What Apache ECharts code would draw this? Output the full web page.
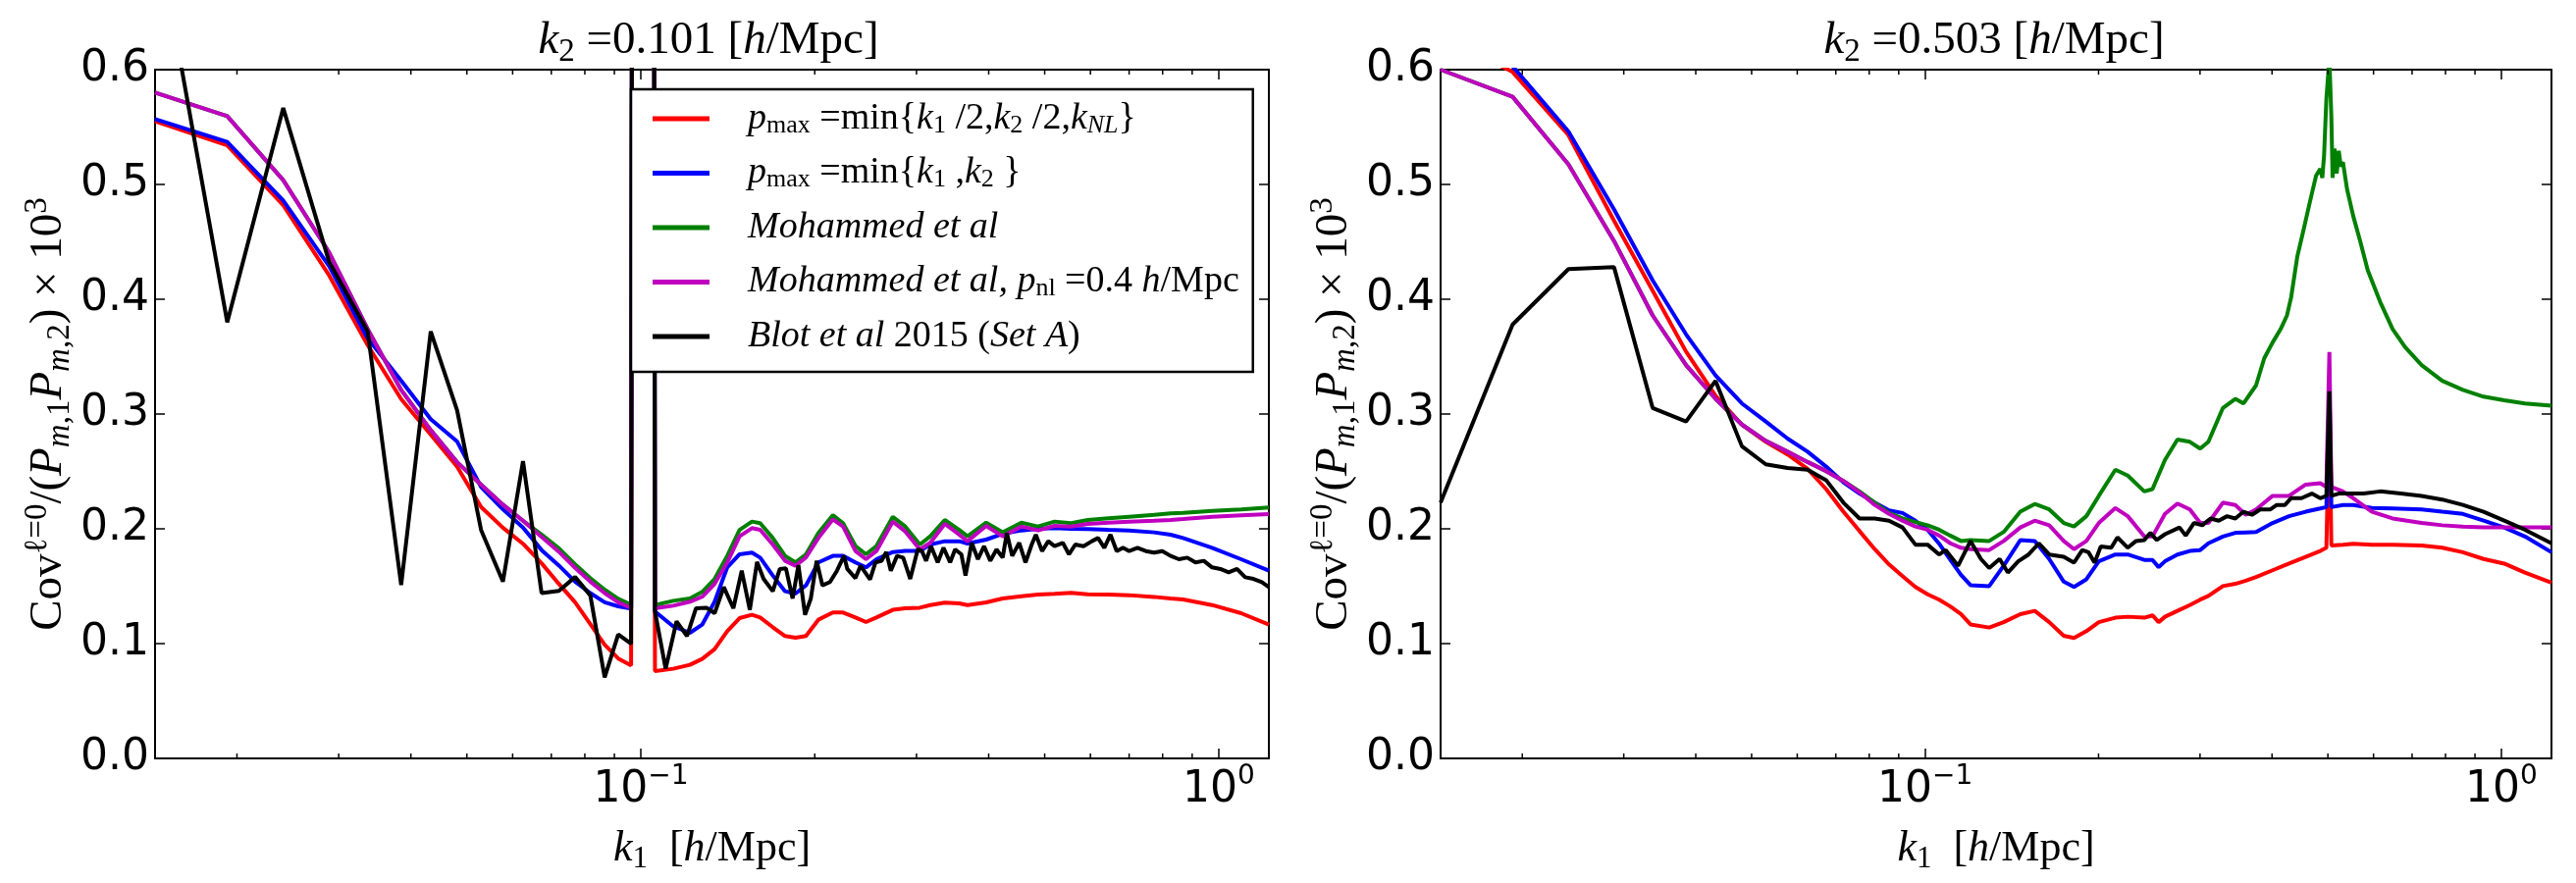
<!DOCTYPE html>
<html><head><meta charset="utf-8">
<script src="https://cdn.jsdelivr.net/npm/echarts@6.0.0/dist/echarts.min.js"></script>
<style>html,body{margin:0;padding:0;background:#fff}#c{width:2625px;height:900px}</style>
</head><body><div id="c"></div>
<script>
// ---------------- data ----------------
const K_MIN = 0.01443, K_MAX = 1.2217;
const MINOR_TICKS = [0.02,0.03,0.04,0.05,0.06,0.07,0.08,0.09,0.2,0.3,0.4,0.5,0.6,0.7,0.8,0.9];
const Y_TICKS = [0, 0.1, 0.2, 0.3, 0.4, 0.5, 0.6];
const SERIES_NAMES = ['pmax_half', 'pmax_full', 'mohammed', 'mohammed_pnl', 'blot'];
const SERIES_COLORS = ['#ff0000', '#0000ff', '#008000', '#bf00bf', '#000000'];
const PANEL_TITLES_K2 = ['0.101', '0.503'];

// left panel (k2 = 0.101)
const leftK = [0.01443,0.01924,0.02405,0.02886,0.03367,0.03848,0.04329,0.0481,0.05291,0.05772,0.06253,0.06734,0.07215,0.07696,0.08177,0.08658,0.09139,0.0962,0.101,
  0.1058,0.1138,0.1216,0.1277,0.1342,0.1411,0.1482,0.1557,0.1609,0.1692,0.1777,0.1852,0.1931,0.2029,0.2150,0.2239,0.2352,0.2453,0.2557,0.2730,0.2869,0.3040,0.3169,0.3358,0.3557,0.3676,0.3960,0.4229,0.4556,0.4867,0.5200,0.5555,0.5935,0.6446,0.7002,0.7733,0.8260,0.8679,0.9743,1.0937,1.2217];
const leftRed = [0.555,0.534,0.482,0.421,0.360,0.313,0.282,0.254,0.219,0.201,0.187,0.170,0.152,0.136,0.117,0.099,0.087,0.081,8,
  0.0761,0.0781,0.0815,0.0866,0.0952,0.1108,0.1222,0.1251,0.1228,0.1143,0.1066,0.1051,0.1066,0.1208,0.1271,0.1271,0.1228,0.1188,0.1228,0.1294,0.1308,0.1313,0.1336,0.1356,0.1351,0.1336,0.1359,0.1393,0.1413,0.1427,0.1433,0.1442,0.1430,0.1427,0.1422,0.1407,0.1393,0.1385,0.1336,0.1265,0.1165];
const leftBlue = [0.557,0.537,0.486,0.429,0.366,0.329,0.2955,0.276,0.2365,0.217,0.201,0.1815,0.168,0.154,0.144,0.136,0.1325,0.1305,8,
  0.128,0.115,0.1094,0.1165,0.1365,0.1664,0.1778,0.1792,0.1749,0.1593,0.1456,0.1436,0.1507,0.1707,0.1764,0.1764,0.1707,0.1664,0.1735,0.1798,0.1807,0.1807,0.1863,0.1892,0.1892,0.1872,0.1906,0.1957,0.1986,0.2000,0.2006,0.2000,0.1997,0.1991,0.1986,0.1969,0.1949,0.1920,0.1835,0.1735,0.1635];
const leftGreen = [0.580,0.5595,0.5037,0.441,0.374,0.321,0.286,0.258,0.2385,0.221,0.207,0.195,0.183,0.169,0.157,0.147,0.139,0.134,8,
  0.1336,0.1373,0.1393,0.145,0.1564,0.1764,0.1991,0.2063,0.2049,0.1920,0.1764,0.1707,0.1778,0.1963,0.2120,0.2049,0.1850,0.1778,0.1850,0.2105,0.2020,0.1863,0.1935,0.2077,0.1991,0.1935,0.2054,0.1970,0.2054,0.2020,0.2063,0.2049,0.2077,0.2091,0.2105,0.2122,0.2134,0.2139,0.2157,0.2168,0.2185];
const leftMagenta = [0.580,0.5595,0.5037,0.441,0.374,0.321,0.286,0.258,0.2385,0.221,0.207,0.193,0.180,0.166,0.154,0.144,0.136,0.131,8,
  0.1308,0.1330,0.1365,0.1408,0.1521,0.1707,0.1935,0.2006,0.1991,0.1863,0.1721,0.1678,0.1750,0.1920,0.2083,0.2020,0.1806,0.1735,0.1806,0.2063,0.1977,0.1821,0.1878,0.2043,0.1949,0.1892,0.2026,0.1935,0.2020,0.1986,0.2026,0.2020,0.2043,0.2054,0.2063,0.2071,0.2077,0.2085,0.2105,0.2117,0.2128];
const leftBlotK = [0.01443,0.01924,0.02405,0.02886,0.03367,0.03848,0.04329,0.0481,0.05291,0.05772,0.06253,0.06734,0.07215,0.07696,0.08177,0.08658,0.09139,0.0962,0.101,0.1058,
  0.1104,0.1153,0.1202,0.1246,0.1299,0.1342,0.1392,0.1446,0.1495,0.1544,0.1589,0.1631,0.1692,0.1740,0.1783,0.1831,0.1874,0.1924,0.1969,0.2015,0.2062,0.2125,0.2185,0.2247,0.2277,0.2352,0.2400,0.2493,0.2547,0.2611,0.2659,0.2708,0.2776,0.2845,0.2926,0.3015,0.3066,0.3117,0.3179,0.3265,0.3341,0.3430,0.3499,0.3587,0.3647,0.3738,0.3832,0.3927,0.4026,0.4127,0.4229,0.4300,0.4393,0.4518,0.4632,0.4748,0.4827,0.4949,0.5072,0.5200,0.5374,0.5509,0.5649,0.5838,0.6034,0.6185,0.6341,0.6499,0.6663,0.6831,0.7002,0.7238,0.7481,0.7733,0.7991,0.8260,0.8537,0.8825,0.9120,0.9428,0.9743,1.0072,1.0409,1.0759,1.1119,1.1493,1.1880,1.2217];
const leftBlot = [0.730,0.380,0.5666,0.433,0.372,0.151,0.372,0.303,0.199,0.154,0.259,0.144,0.146,0.158,0.142,0.0707,0.108,0.0998,8,0.128,
  0.0781,0.1194,0.1066,0.1308,0.1313,0.1265,0.1493,0.1308,0.1635,0.1293,0.1712,0.1564,0.1456,0.1650,0.1655,0.1393,0.1684,0.1251,0.1393,0.1721,0.1507,0.1536,0.1635,0.1764,0.1650,0.1570,0.1678,0.1558,0.1707,0.1721,0.1798,0.1635,0.1764,0.1749,0.1564,0.1821,0.1806,0.1721,0.1849,0.1707,0.1835,0.1707,0.1821,0.1778,0.1593,0.1878,0.1735,0.1849,0.1721,0.1821,0.1749,0.1963,0.1764,0.1878,0.1707,0.1863,0.1949,0.1806,0.1892,0.1849,0.1878,0.1778,0.1863,0.1849,0.1892,0.1920,0.1835,0.1949,0.1806,0.1835,0.1806,0.1835,0.1806,0.1792,0.1806,0.1764,0.1735,0.1749,0.1707,0.1721,0.1664,0.1650,0.1621,0.1650,0.1578,0.1564,0.1536,0.1493];

// right panel (k2 = 0.503)
const rightK = [0.01443,0.01924,0.02405,0.02886,0.03367,0.03848,0.04329,0.0481,0.05291,0.05772,0.06253,0.06734,0.07215,0.07696,0.08177,0.08658,0.09139,0.0962,0.101,0.1058,0.1106,0.1154,
  0.1199,0.1292,0.1369,0.1463,0.1550,0.1642,0.1740,0.1813,0.1905,0.2002,0.2139,0.2248,0.2401,0.2481,0.2543,0.2608,0.2741,0.2880,0.3002,0.3102,0.3287,0.3454,0.3601,0.3753,0.4009,0.4281,0.4575,0.4850,0.4970,0.503,0.5070,0.5310,0.5534,0.5962,0.6476,0.7270,0.7896,0.8574,0.9314,1.0116,1.0990,1.2217];
const rightRed = [0.630,0.598,0.5430,0.4684,0.4075,0.3544,0.3159,0.2908,0.2758,0.2648,0.2523,0.2346,0.2149,0.1980,0.1823,0.1690,0.1587,0.1493,0.1430,0.1383,0.1324,0.1257,
  0.1167,0.1140,0.1187,0.1257,0.1285,0.1187,0.1069,0.1049,0.1108,0.1187,0.1226,0.1234,0.1226,0.1246,0.1187,0.1234,0.1285,0.1336,0.1383,0.1415,0.1501,0.1521,0.1548,0.1580,0.1639,0.1697,0.1756,0.1807,0.1835,0.30,0.1855,0.1862,0.1870,0.1862,0.1862,0.1855,0.1835,0.1796,0.1737,0.1697,0.1619,0.1532];
const rightBlue = [0.635,0.603,0.5462,0.4782,0.4165,0.3694,0.3336,0.3092,0.2935,0.2786,0.2672,0.2542,0.2405,0.2307,0.2228,0.2161,0.2138,0.2070,0.1992,0.1870,0.1730,0.1600,
  0.1509,0.1501,0.1678,0.1902,0.1894,0.1737,0.1540,0.1493,0.1560,0.1717,0.1776,0.1776,0.1729,0.1729,0.1666,0.1717,0.1776,0.1807,0.1815,0.1874,0.1933,0.1965,0.1969,0.1972,0.2051,0.2110,0.2149,0.2177,0.2189,0.31,0.2189,0.2208,0.2208,0.2181,0.2177,0.2169,0.2149,0.2130,0.2071,0.2012,0.1933,0.1796];
const rightMagenta = [0.600,0.5764,0.5175,0.4507,0.3859,0.3426,0.3132,0.2908,0.2766,0.2672,0.2582,0.2503,0.2417,0.2318,0.2208,0.2130,0.2071,0.2020,0.1992,0.1941,0.1874,0.1835,
  0.1823,0.1815,0.1894,0.2012,0.2071,0.2031,0.1894,0.1823,0.1894,0.2051,0.2181,0.2110,0.1933,0.1933,0.2031,0.2130,0.2220,0.2169,0.2051,0.2051,0.2228,0.2208,0.2122,0.2169,0.2287,0.2287,0.2385,0.2397,0.2365,0.354,0.2365,0.2326,0.2267,0.2149,0.2090,0.2051,0.2031,0.2020,0.2012,0.2012,0.2012,0.2012];
const rightGreenK = [0.01443,0.01924,0.02405,0.02886,0.03367,0.03848,0.04329,0.0481,0.05291,0.05772,0.06253,0.06734,0.07215,0.07696,0.08177,0.08658,0.09139,0.0962,0.101,0.1058,0.1106,0.1154,
  0.1199,0.1292,0.1369,0.1463,0.1550,0.1642,0.1740,0.1813,0.1905,0.2002,0.2139,0.2248,0.2401,0.2481,0.2608,0.2741,0.2880,0.3002,0.3102,0.3287,0.3454,0.3570,0.3753,0.3877,0.4009,0.4141,0.4246,0.4317,0.4424,0.4537,0.4650,0.4770,0.4850,0.4890,0.4925,0.4970,0.503,0.5070,0.5095,0.5133,0.5180,0.5223,0.5266,0.5310,0.5398,0.5534,0.5674,0.5864,0.6163,0.6476,0.6804,0.7270,0.7896,0.8574,0.9314,1.0116,1.0990,1.2217];
const rightGreen = [0.600,0.5764,0.5175,0.4507,0.3859,0.3426,0.3132,0.2908,0.2766,0.2672,0.2582,0.2503,0.2417,0.2326,0.2228,0.2138,0.2090,0.2059,0.2031,0.1992,0.1941,0.1894,
  0.1902,0.1894,0.1973,0.2149,0.2216,0.2169,0.2051,0.2020,0.2110,0.2287,0.2515,0.2464,0.2326,0.2346,0.2601,0.2778,0.2758,0.2699,0.2758,0.3053,0.3132,0.3092,0.3250,0.3485,0.3623,0.3741,0.3859,0.4016,0.4369,0.4605,0.4841,0.5077,0.5136,0.5057,0.5254,0.5745,0.61,0.5588,0.5057,0.5312,0.5096,0.5293,0.5155,0.5195,0.4959,0.4723,0.4527,0.4252,0.3976,0.3741,0.3584,0.3426,0.3289,0.3210,0.3151,0.3120,0.3092,0.3073];
const rightBlotK = [0.01443,0.01924,0.02405,0.02886,0.03367,0.03848,0.04329,0.0481,0.05291,0.05772,0.06253,0.06734,0.07215,0.07696,0.08177,0.08658,0.09139,
  0.0962,0.101,0.1058,0.1086,0.1141,0.1199,0.1250,0.1292,0.1347,0.1392,0.1451,0.1512,0.1576,0.1642,0.1740,0.1813,0.1874,0.1921,0.1969,0.2018,0.2104,0.2157,0.2248,0.2323,0.2401,0.2461,0.2523,0.2608,0.2764,0.2833,0.2928,0.3027,0.3128,0.3233,0.3342,0.3454,0.3570,0.3691,0.3815,0.3975,0.4076,0.4213,0.4317,0.4499,0.4690,0.4850,0.4970,0.503,0.5070,0.5223,0.5489,0.5768,0.6163,0.6693,0.7270,0.7896,0.8574,0.9314,1.0116,1.0990,1.2217];
const rightBlot = [0.2228,0.3780,0.4263,0.4279,0.3053,0.2935,0.3289,0.2719,0.2562,0.2530,0.2515,0.2424,0.2228,0.2090,0.2090,0.2071,0.2012,
  0.1862,0.1862,0.1776,0.1815,0.1678,0.1894,0.1737,0.1658,0.1737,0.1619,0.1717,0.1776,0.1874,0.1776,0.1756,0.1705,0.1815,0.1796,0.1705,0.1847,0.1835,0.1925,0.1835,0.1894,0.1902,0.1965,0.1902,0.1953,0.2012,0.1941,0.2051,0.2031,0.2090,0.2071,0.2110,0.2090,0.2149,0.2122,0.2169,0.2169,0.2208,0.2208,0.2267,0.2267,0.2307,0.2267,0.2287,0.3198,0.2287,0.2307,0.2307,0.2307,0.2326,0.2307,0.2287,0.2255,0.2208,0.2149,0.2071,0.1992,0.1874];

// ---------------- styling / layout ----------------
const SERIF = 'Liberation Serif';
const SANS = 'DejaVu Sans';
const pairs = (ks, vs) => ks.map((k, i) => [k, vs[i]]);

function mathRich(base, sub, lh) {
  return {
    i:    {fontFamily: SERIF, fontStyle: 'italic', fontSize: base, lineHeight: lh, color: '#000'},
    r:    {fontFamily: SERIF, fontSize: base, lineHeight: lh, color: '#000'},
    sub:  {fontFamily: SERIF, fontSize: sub, lineHeight: sub, verticalAlign: 'bottom', color: '#000'},
    subi: {fontFamily: SERIF, fontStyle: 'italic', fontSize: sub, lineHeight: sub, verticalAlign: 'bottom', color: '#000'},
    sup:  {fontFamily: SERIF, fontSize: sub, lineHeight: sub, verticalAlign: 'top', color: '#000'},
    gap:  {width: 34}
  };
}
const baseText = (size, lh) => ({fontFamily: SERIF, fontSize: size, lineHeight: lh, color: '#000', fontWeight: 'normal'});

const LEGEND_TEXT = {
  pmax_half: '{gap|}{i|p}{sub|max} =min{{i|k}{sub|1} /2,{i|k}{sub|2} /2,{i|k}{subi|NL}}',
  pmax_full: '{gap|}{i|p}{sub|max} =min{{i|k}{sub|1} ,{i|k}{sub|2} }',
  mohammed: '{gap|}{i|Mohammed et al}',
  mohammed_pnl: '{gap|}{i|Mohammed et al, p}{sub|nl} =0.4 {i|h}/Mpc',
  blot: '{gap|}{i|Blot et al} 2015 ({i|Set A})'
};
const X_NAME = '{i|k}{sub|1}  [{i|h}/Mpc]';
const Y_NAME = 'Cov{sup|ℓ=0}/({i|P}{subi|m}{sub|,1}{i|P}{subi|m}{sub|,2}) × 10{sup|3}';

function xAxis(gi, pos) {
  const bottom = pos === 'bottom';
  return {
    type: 'log', logBase: 10, gridIndex: gi, position: pos, min: K_MIN, max: K_MAX,
    axisLine: {show: true, onZero: false, lineStyle: {color: '#000', width: 2}},
    axisTick: {show: true, inside: true, length: 10, lineStyle: {color: '#000', width: 1.5}},
    splitLine: {show: false}, minorTick: {show: false}, minorSplitLine: {show: false},
    axisLabel: bottom ? {
      show: true, margin: 5, showMinLabel: false, showMaxLabel: false,
      formatter: (v) => {
        const l = Math.log10(v), e = Math.round(l);
        if (Math.abs(l - e) > 1e-6) return '';
        return '{b|10}{s|' + (e < 0 ? '−' + (-e) : String(e)) + '}';
      },
      rich: {
        b: {fontFamily: SANS, fontSize: 44, lineHeight: 56, color: '#000'},
        s: {fontFamily: SANS, fontSize: 28, lineHeight: 22, verticalAlign: 'top', color: '#000'}
      }
    } : {show: false},
    name: bottom ? X_NAME : '', nameLocation: 'middle', nameGap: 66,
    nameTextStyle: Object.assign(baseText(44, 52), {rich: mathRich(44, 31, 52)})
  };
}
function yAxis(gi, pos) {
  const left = pos === 'left';
  return {
    type: 'value', gridIndex: gi, position: pos, min: Y_TICKS[0], max: Y_TICKS[Y_TICKS.length - 1], interval: 0.1,
    axisLine: {show: true, onZero: false, lineStyle: {color: '#000', width: 2}},
    axisTick: {show: true, inside: true, length: 10, lineStyle: {color: '#000', width: 1.5}},
    splitLine: {show: false},
    axisLabel: left ? {show: true, margin: 6, formatter: (v) => v.toFixed(1), fontFamily: SANS, fontSize: 44, color: '#000'} : {show: false},
    name: left ? Y_NAME : '', nameLocation: 'middle', nameRotate: 90, nameGap: 76,
    nameTextStyle: Object.assign(baseText(47, 56), {rich: mathRich(47, 33, 56)})
  };
}

function minorTicks(xi, yi) {
  return {
    type: 'custom', xAxisIndex: xi, yAxisIndex: yi, silent: true, z: 6,
    data: MINOR_TICKS.map(t => [t, 0]),
    renderItem: (params, api) => {
      const b = api.coord([api.value(0), Y_TICKS[0]]);
      const t = api.coord([api.value(0), Y_TICKS[Y_TICKS.length - 1]]);
      return {type: 'group', children: [
        {type: 'line', shape: {x1: b[0], y1: b[1], x2: b[0], y2: b[1] - 5}, style: {stroke: '#000', lineWidth: 1.5}},
        {type: 'line', shape: {x1: t[0], y1: t[1], x2: t[0], y2: t[1] + 5}, style: {stroke: '#000', lineWidth: 1.5}}
      ]};
    }
  };
}

function lineSeries(i, xi, yi, data) {
  return {
    type: 'line', name: SERIES_NAMES[i], xAxisIndex: xi, yAxisIndex: yi, data: data,
    color: SERIES_COLORS[i], showSymbol: false, symbol: 'none', clip: true,
    lineStyle: {color: SERIES_COLORS[i], width: 4}, emphasis: {disabled: true}, z: 2 + i * 0.01
  };
}

const leftSets = [pairs(leftK, leftRed), pairs(leftK, leftBlue), pairs(leftK, leftGreen), pairs(leftK, leftMagenta), pairs(leftBlotK, leftBlot)];
const rightSets = [pairs(rightK, rightRed), pairs(rightK, rightBlue), pairs(rightGreenK, rightGreen), pairs(rightK, rightMagenta), pairs(rightBlotK, rightBlot)];

const series = [];
leftSets.forEach((d, i) => series.push(lineSeries(i, 0, 0, d)));
rightSets.forEach((d, i) => series.push(lineSeries(i, 2, 2, d)));
series.push(minorTicks(0, 0), minorTicks(2, 2));

const titleStyle = Object.assign(baseText(47, 56), {rich: mathRich(47, 33, 56)});
const option = {
  animation: false,
  backgroundColor: '#fff',
  textStyle: {fontFamily: SERIF},
  title: PANEL_TITLES_K2.map((v, i) => ({
    text: '{i|k}{sub|2} =' + v + ' [{i|h}/Mpc]',
    left: i === 0 ? 722 : 2032, top: 14, textAlign: 'center', padding: 0,
    textStyle: titleStyle
  })),
  grid: [
    {left: 158, top: 71, width: 1135, height: 702},
    {left: 1468, top: 71, width: 1132, height: 702}
  ],
  xAxis: [xAxis(0, 'bottom'), xAxis(0, 'top'), xAxis(1, 'bottom'), xAxis(1, 'top')],
  yAxis: [yAxis(0, 'left'), yAxis(0, 'right'), yAxis(1, 'left'), yAxis(1, 'right')],
  legend: {
    show: true, orient: 'vertical', left: 643, top: 91,
    data: SERIES_NAMES, selectedMode: false,
    icon: 'rect', itemWidth: 58, itemHeight: 5, itemGap: 15.5,
    padding: [10, 14, 16, 22],
    backgroundColor: '#fff', borderColor: '#000', borderWidth: 2.5, borderRadius: 0,
    formatter: (name) => LEGEND_TEXT[name],
    textStyle: Object.assign(baseText(38, 40), {rich: mathRich(38, 26, 40)}),
    z: 20
  },
  series: series
};

const chart = echarts.init(document.getElementById('c'), null, {renderer: 'canvas'});
chart.setOption(option);
</script></body></html>
